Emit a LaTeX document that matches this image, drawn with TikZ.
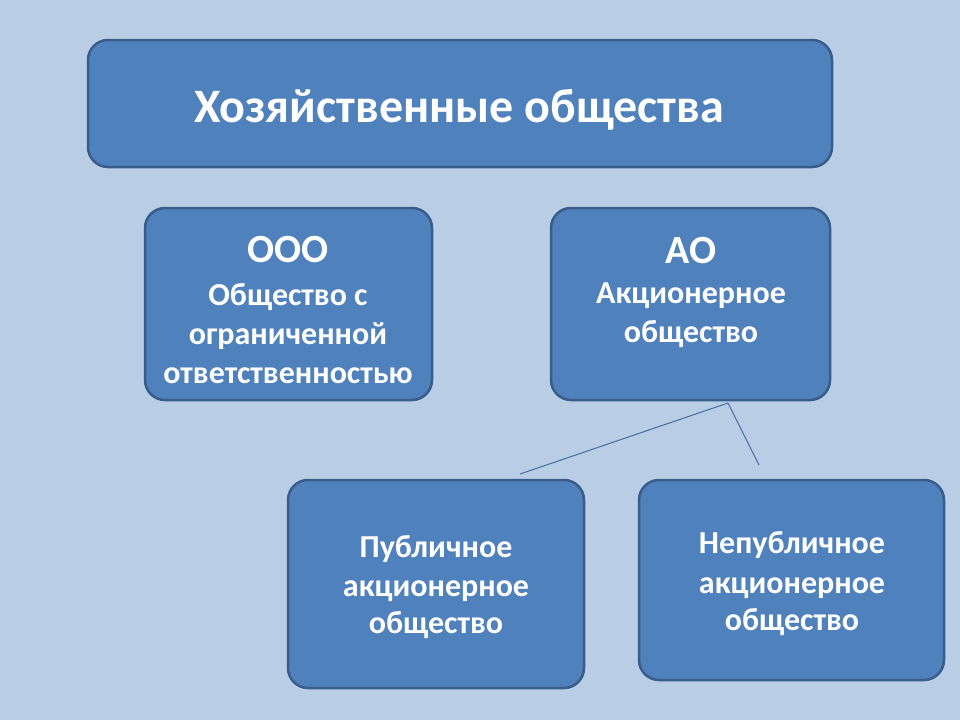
\documentclass[tikz,border=0pt]{standalone}
\usepackage{fontspec}
\setmainfont{Carlito}
\usepackage{xcolor}
\usetikzlibrary{calc}
\definecolor{slidebg}{HTML}{B9CDE5}
\definecolor{boxfill}{HTML}{4F81BD}
\definecolor{boxline}{HTML}{385D8A}
\tikzset{>=latex}
\tikzset{orgbox/.style={draw=boxline,line width=2.5pt,fill=boxfill,rounded corners=20pt,inner sep=0pt}}
\tikzset{boxtext/.style={text=white,anchor=base,inner sep=0pt,font=\bfseries\fontsize{32}{38}\selectfont}}
\tikzset{bigtext/.style={boxtext,font=\bfseries\fontsize{40}{46}\selectfont}}
\tikzset{branch/.style={draw=boxfill!85!black,line width=1pt}}

\begin{document}
\begin{tikzpicture}[x=1pt,y=-1pt]
  \fill[slidebg] (0,0) rectangle (960,720);
  \useasboundingbox (0,0) rectangle (960,720);

  % Boxes
  \node[orgbox,minimum width=744,minimum height=127] (hoz) at (460,103.5) {};
  \node[orgbox,minimum width=287,minimum height=192] (ooo) at (288.5,304) {};
  \node[orgbox,minimum width=279,minimum height=192] (ao) at (690.5,304) {};
  \node[orgbox,minimum width=296,minimum height=208] (pao) at (436,584) {};
  \node[orgbox,minimum width=305,minimum height=200] (npao) at (791.5,580) {};

  % Lines
  \coordinate (split) at (728,403);
  \coordinate (toleft) at (520,474);
  \coordinate (toright) at (759,465);
  \draw[branch] (split) -- (toleft);
  \draw[branch] (split) -- (toright);

  % Labels
  \node[bigtext,font=\bfseries\fontsize{48}{54}\selectfont] (hoz-t) at (459,122) {Хозяйственные общества};
  \node[bigtext] (ooo-t) at (288,262) {ООО};
  \node[boxtext] (ooo-1) at (288,305) {Общество с};
  \node[boxtext] (ooo-2) at (288,344) {ограниченной};
  \node[boxtext] (ooo-3) at (288,383) {ответственностью};
  \node[bigtext] (ao-t) at (691,263) {АО};
  \node[boxtext] (ao-1) at (691,303) {Акционерное};
  \node[boxtext] (ao-2) at (691,342) {общество};
  \node[boxtext] (pao-1) at (436,557) {Публичное};
  \node[boxtext] (pao-2) at (436,596) {акционерное};
  \node[boxtext] (pao-3) at (436,633) {общество};
  \node[boxtext] (npao-1) at (792,553) {Непубличное};
  \node[boxtext] (npao-2) at (792,593) {акционерное};
  \node[boxtext] (npao-3) at (792,630) {общество};
\end{tikzpicture}
\end{document}
